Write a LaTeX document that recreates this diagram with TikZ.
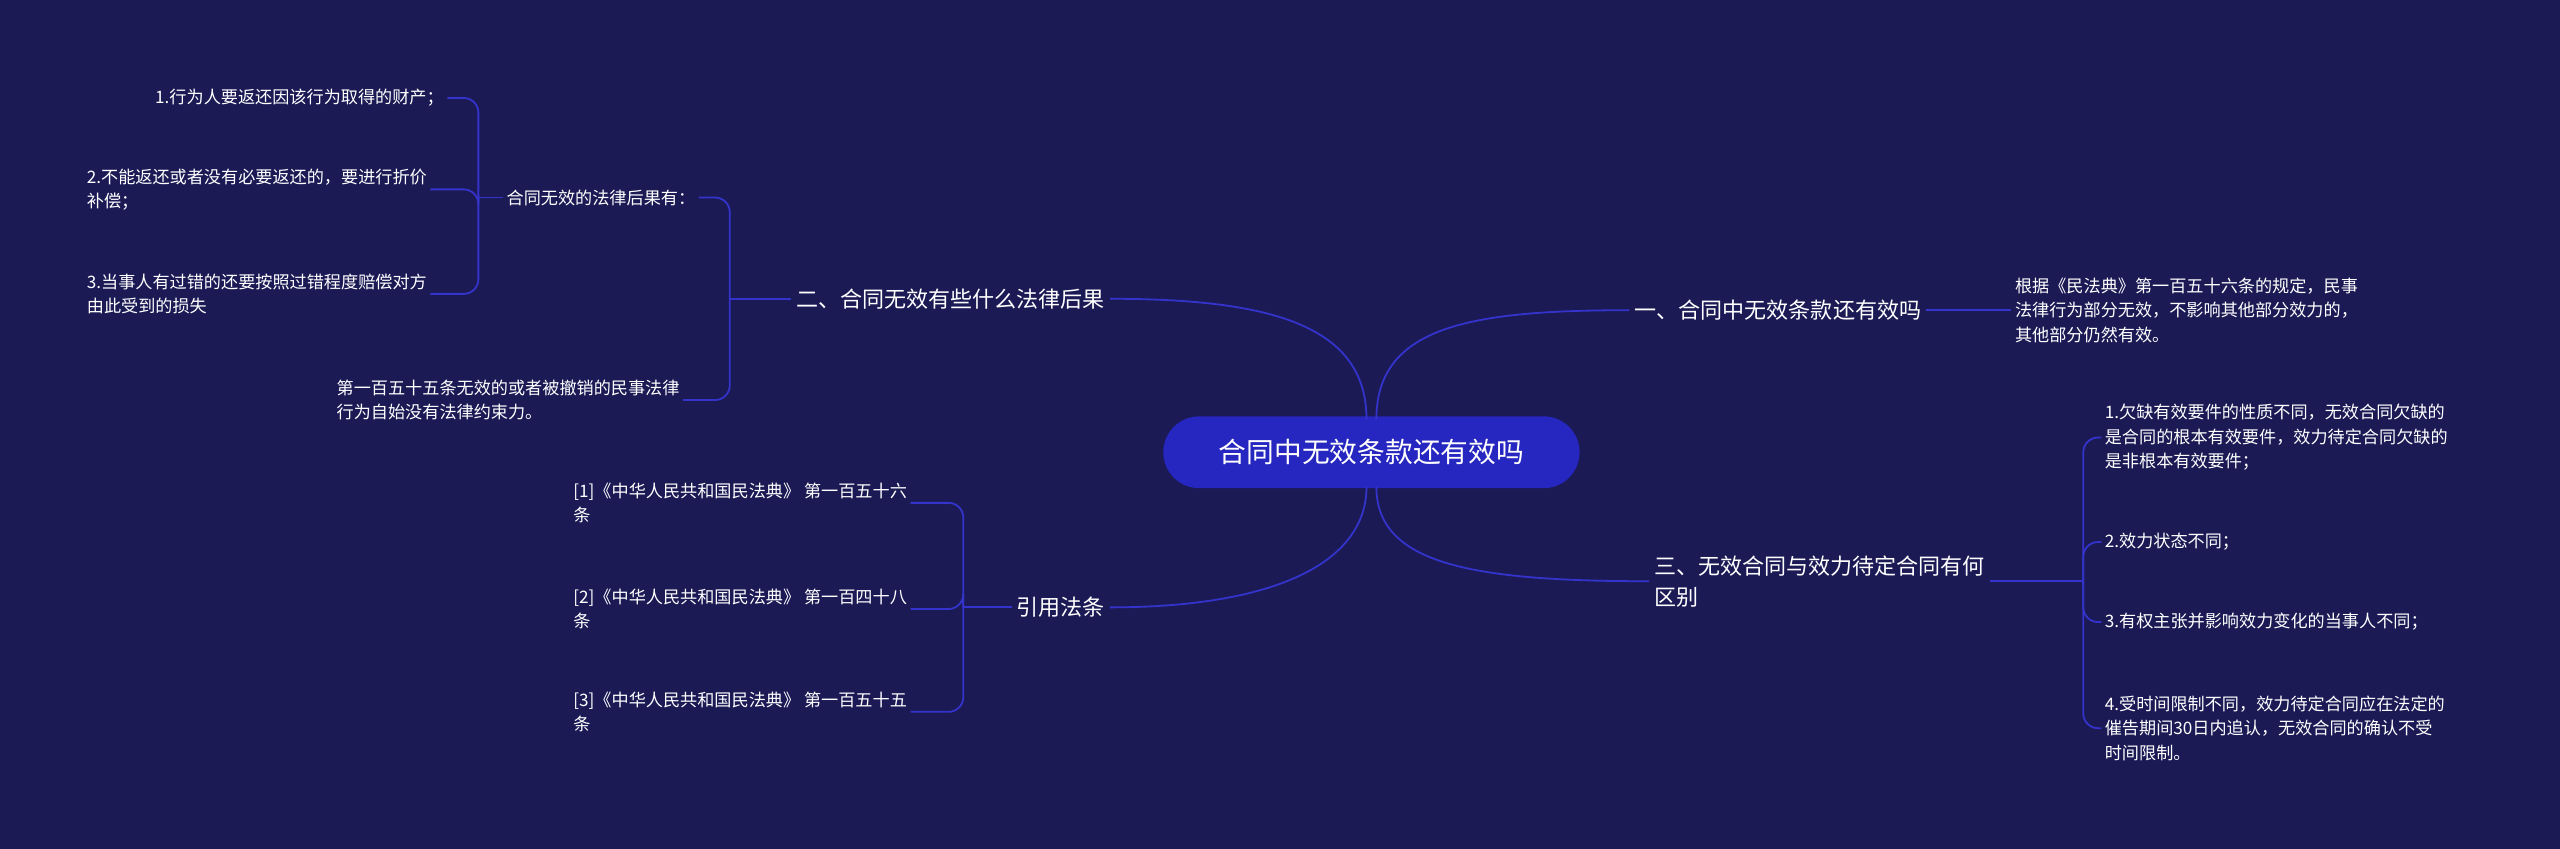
\documentclass[tikz,border=0pt]{standalone}
\usepackage{fontspec}
\setmainfont{Noto Sans CJK SC}
\begin{document}
\begin{tikzpicture}[x=1pt,y=-1pt,
  ln/.style={draw=lc,line width=1.1pt},
  leaf/.style={text=white,font=\fontsize{10.5}{15}\selectfont,align=left,inner sep=2pt},
  br/.style={text=white,font=\fontsize{13.5}{19}\selectfont,align=left,inner sep=3pt},
  bk/.style={ln,rounded corners=9}]
\definecolor{bg}{HTML}{1B1A55}
\definecolor{lc}{HTML}{3434CC}
\definecolor{cf}{HTML}{2626C0}
\fill[bg] (0,0) rectangle (1568,520);
\useasboundingbox (0,0) rectangle (1568,520);
\node[fill=cf,rounded corners=22,minimum width=255,minimum height=44,text=white,font=\fontsize{17}{20}\selectfont] (c) at (840,277) {合同中无效条款还有效吗};
% right top
\node[br,anchor=west] (b1) at (998,190) {一、合同中无效条款还有效吗};
\node[leaf,anchor=west] (r1) at (1232,190) {根据《民法典》第一百五十六条的规定，民事\\法律行为部分无效，不影响其他部分效力的，\\其他部分仍然有效。};
\draw[ln] (843,257) .. controls (843,200) and (900,190) .. (b1.west);
\draw[ln] (b1.east) -- (r1.west);
% right bottom
\node[br,anchor=west] (b3) at (1010,356) {三、无效合同与效力待定合同有何\\区别};
\draw[ln] (843,298) .. controls (843,345) and (900,356) .. (b3.west);
\node[leaf,anchor=west] (t1) at (1287,268) {1.欠缺有效要件的性质不同，无效合同欠缺的\\是合同的根本有效要件，效力待定合同欠缺的\\是非根本有效要件；};
\node[leaf,anchor=west] (t2) at (1287,332) {2.效力状态不同；};
\node[leaf,anchor=west] (t3) at (1287,381) {3.有权主张并影响效力变化的当事人不同；};
\node[leaf,anchor=west] (t4) at (1287,446) {4.受时间限制不同，效力待定合同应在法定的\\催告期间30日内追认，无效合同的确认不受\\时间限制。};
\draw[ln] (b3.east) -- (1276,356);
\foreach \t in {t1,t2,t3,t4} \draw[bk] (1276,356) |- (\t.west);
% left top
\node[br,anchor=east] (b2) at (680,183) {二、合同无效有些什么法律后果};
\draw[ln] (837,257) .. controls (837,200) and (780,183) .. (b2.east);
\node[leaf,anchor=east] (m1) at (428,121) {合同无效的法律后果有：};
\node[leaf,anchor=west] (m2) at (204,245) {第一百五十五条无效的或者被撤销的民事法律\\行为自始没有法律约束力。};
\draw[ln] (b2.west) -- (447,183);
\draw[bk] (447,183) |- (m1.east);
\draw[bk] (447,183) |- ([xshift=0pt]m2.east);
\node[leaf,anchor=east] (n1) at (274,60) {1.行为人要返还因该行为取得的财产；};
\node[leaf,anchor=west] (n2) at (51,116) {2.不能返还或者没有必要返还的，要进行折价\\补偿；};
\node[leaf,anchor=west] (n3) at (51,180) {3.当事人有过错的还要按照过错程度赔偿对方\\由此受到的损失};
\draw[ln] (m1.west) -- (293,121);
\draw[bk] (293,121) |- (n1.east);
\draw[bk] (293,121) |- (n2.east);
\draw[bk] (293,121) |- (n3.east);
% left bottom
\node[br,anchor=east] (b4) at (680,372) {引用法条};
\draw[ln] (837,298) .. controls (837,345) and (780,372) .. (b4.east);
\node[leaf,anchor=west] (q1) at (349,308) {[1]《中华人民共和国民法典》 第一百五十六\\条};
\node[leaf,anchor=west] (q2) at (349,373) {[2]《中华人民共和国民法典》 第一百四十八\\条};
\node[leaf,anchor=west] (q3) at (349,436) {[3]《中华人民共和国民法典》 第一百五十五\\条};
\draw[ln] (b4.west) -- (590,372);
\foreach \q in {q1,q2,q3} \draw[bk] (590,372) |- (\q.east);
\end{tikzpicture}
\end{document}
